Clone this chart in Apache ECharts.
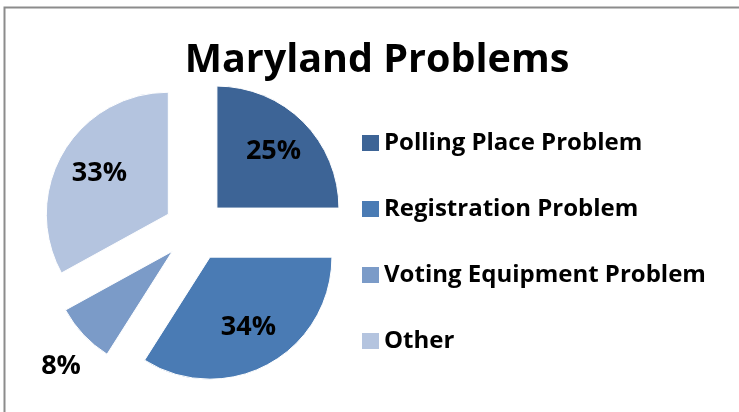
<!DOCTYPE html>
<html>
<head>
<meta charset="utf-8">
<script src="https://cdn.jsdelivr.net/npm/echarts@6/dist/echarts.min.js"></script>
<style>
  html, body { margin: 0; padding: 0; background: #ffffff; }
  #chart { width: 739px; height: 412px; }
</style>
</head>
<body>
<div id="chart"></div>
<script>
// Categories, shares (percent) and slice colours
const categories = ['Polling Place Problem', 'Registration Problem', 'Voting Equipment Problem', 'Other'];
const shares = [25, 34, 8, 33];
const sliceColors = ['#3d6496', '#4a7bb4', '#7b9bc8', '#b4c4df'];
const chartTitle = 'Maryland Problems';

const FONT = '"Open Sans", "DejaVu Sans", sans-serif';
const CENTER = [195, 230];
const RADIUS = 122;
const EXPLODE = 31;

// Visible exploded slices
const sliceData = categories.map((name, i) => ({
  name: name,
  value: shares[i],
  selected: true,
  itemStyle: { color: sliceColors[i] },
  select: { itemStyle: { color: sliceColors[i], borderColor: '#ffffff', borderWidth: 1 } }
}));

// Transparent twin ring used to place the percentage labels
const labelData = categories.map((name, i) => {
  const item = {
    name: name,
    value: shares[i],
    selected: true,
    itemStyle: { color: 'rgba(0,0,0,0)' },
    select: { itemStyle: { color: 'rgba(0,0,0,0)', borderWidth: 0 } }
  };
  if (shares[i] < 10) {
    // small slice: label sits outside the rim
    item.label = { position: 'outside', distanceToLabelLine: -31 };
    item.labelLine = { show: false, length: 46, length2: 0 };
  }
  return item;
});

const chart = echarts.init(document.getElementById('chart'), null, { renderer: 'canvas' });

chart.setOption({
  animation: false,
  backgroundColor: '#ffffff',
  title: {
    text: chartTitle,
    left: 372,
    top: 36,
    textAlign: 'center',
    textStyle: { fontFamily: FONT, fontWeight: 'bold', fontSize: 39.5, color: '#000000' }
  },
  legend: {
    orient: 'vertical',
    left: 362,
    top: 131,
    padding: 0,
    itemWidth: 17,
    itemHeight: 16,
    itemGap: 42,
    icon: 'rect',
    selectedMode: false,
    data: categories.map((name, i) => ({ name: name, itemStyle: { color: sliceColors[i] } })),
    textStyle: { fontFamily: FONT, fontWeight: 'bold', fontSize: 24, lineHeight: 22, color: '#000000' }
  },
  graphic: [{
    type: 'rect',
    shape: { x: 4.5, y: 7.5, width: 800, height: 500 },
    style: { fill: 'none', stroke: '#8c8c8c', lineWidth: 2 },
    silent: true,
    z: 100
  }],
  series: [
    {
      type: 'pie',
      name: 'slices',
      center: CENTER,
      radius: RADIUS,
      startAngle: 90,
      clockwise: true,
      selectedMode: 'multiple',
      selectedOffset: EXPLODE,
      silent: true,
      label: { show: false },
      labelLine: { show: false },
      data: sliceData
    },
    {
      type: 'pie',
      name: 'labels',
      center: CENTER,
      radius: [32, RADIUS],
      startAngle: 90,
      clockwise: true,
      selectedMode: 'multiple',
      selectedOffset: EXPLODE,
      silent: true,
      avoidLabelOverlap: false,
      z: 3,
      label: {
        show: true,
        position: 'inside',
        formatter: '{c}%',
        fontFamily: FONT,
        fontWeight: 'bold',
        fontSize: 27,
        color: '#000000'
      },
      labelLine: { show: false },
      data: labelData
    }
  ]
});
</script>
</body>
</html>
